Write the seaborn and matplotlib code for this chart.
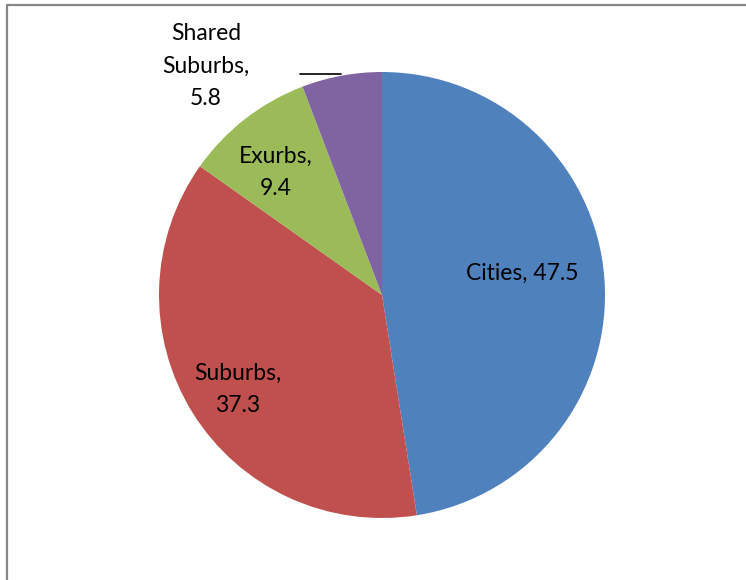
import matplotlib
matplotlib.use("Agg")
import matplotlib.pyplot as plt
import seaborn as sns
from matplotlib.lines import Line2D

# ---- data ----
categories = ["Cities", "Suburbs", "Exurbs", "Shared Suburbs"]
values = [47.5, 37.3, 9.4, 5.8]
colors = ["#4F81BD", "#C0504D", "#9BBB59", "#8064A2"]

sns.set_theme(style="white")
plt.rcParams["font.family"] = ["Lato", "DejaVu Sans"]

W, H = 746, 580
fig = plt.figure(figsize=(W / 100, H / 100), dpi=100)
ax = fig.add_axes([0, 0, 1, 1])

cx, cy, r = 382, H - 295, 223
wedges, _ = ax.pie(values, colors=colors, startangle=90, counterclock=False,
                   center=(cx, cy), radius=r, frame=True,
                   wedgeprops=dict(linewidth=0))
ax.set_xlim(0, W)
ax.set_ylim(0, H)
ax.axis("off")

# label layout (pixel positions from top-left)
label_text = [
    f"{categories[0]}, {values[0]}",
    f"{categories[1]},\n{values[1]}",
    f"{categories[2]},\n{values[2]}",
    "Shared\nSuburbs,\n" + f"{values[3]}",
]
label_pos = [(522, 273), (238, 389), (276, 172), (206, 66)]
for txt, (x, y) in zip(label_text, label_pos):
    ax.text(x, H - y, txt, ha="center", va="center", fontsize=16.5,
            color="black", linespacing=1.65)

# leader line for the small slice
ax.add_line(Line2D([300, 341], [H - 74, H - 74], color="black", lw=1.2))

# chart-area border (only top and left edges fall inside the image)
fig.add_artist(Line2D([7 / W, 7 / W], [0, 1 - 5 / H], transform=fig.transFigure,
                      color="#868686", lw=1.6))
fig.add_artist(Line2D([7 / W, 1], [1 - 5 / H, 1 - 5 / H], transform=fig.transFigure,
                      color="#868686", lw=1.6))

fig.savefig("out.png", dpi=100, facecolor="white")
